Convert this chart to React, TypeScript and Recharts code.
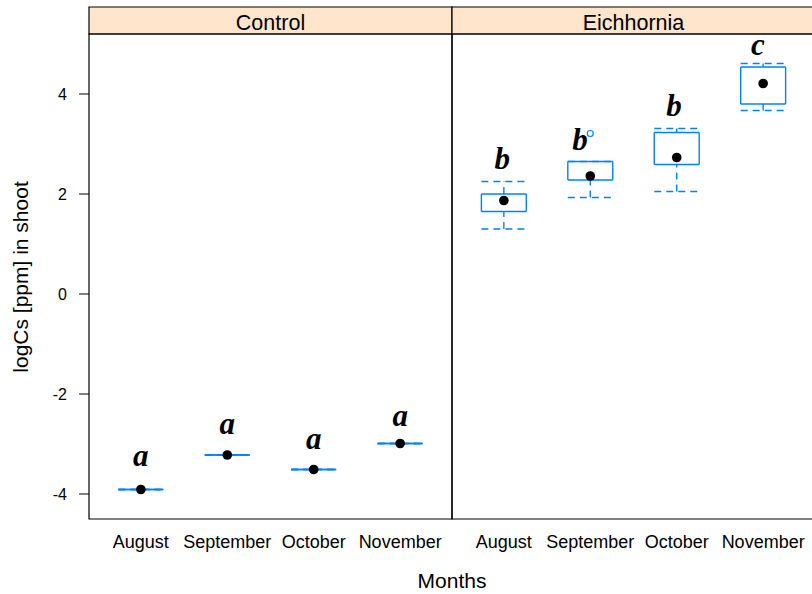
import React from 'react';
import { ComposedChart, XAxis, YAxis, Scatter, ReferenceLine, ReferenceArea } from 'recharts';

const months = ['August', 'September', 'October', 'November'];
const panels = ['Control', 'Eichhornia'];

// Control: all replicates identical -> collapsed boxes
const controlMin = [-3.91, -3.22, -3.51, -2.99];
const controlQ1 = [-3.91, -3.22, -3.51, -2.99];
const controlMedian = [-3.91, -3.22, -3.51, -2.99];
const controlQ3 = [-3.91, -3.22, -3.51, -2.99];
const controlMax = [-3.91, -3.22, -3.51, -2.99];
const controlLetters = ['a', 'a', 'a', 'a'];
const controlLetterY = [-3.43, -2.79, -3.09, -2.64];
const controlLetterShift = [0, 0, 0, 0];

const eichMin = [1.3, 1.93, 2.05, 3.67];
const eichQ1 = [1.65, 2.28, 2.59, 3.8];
const eichMedian = [1.87, 2.36, 2.73, 4.21];
const eichQ3 = [2.0, 2.65, 3.23, 4.54];
const eichMax = [2.25, 2.65, 3.31, 4.61];
const eichLetters = ['b', 'b', 'b', 'c'];
const eichLetterY = [2.51, 2.88, 3.57, 4.78];
const eichLetterShift = [-0.02, -0.12, -0.03, -0.06];
const eichOutlierMonths = ['September'];
const eichOutlierValues = [3.21];

const yTicks = [-4, -2, 0, 2, 4];

const Y_MIN = -4.5;
const Y_MAX = 5.2;
const STRIP_TOP = 5.74;
const PANEL_SPAN = 4.2;
const HALF = 0.26;
const BLUE = '#0080ff';

const xPos = (p: number, i: number) => 1 + i + p * PANEL_SPAN;

const stats = [
  { min: controlMin, q1: controlQ1, med: controlMedian, q3: controlQ3, max: controlMax, letters: controlLetters, letterY: controlLetterY, shift: controlLetterShift, outM: [] as string[], outV: [] as number[] },
  { min: eichMin, q1: eichQ1, med: eichMedian, q3: eichQ3, max: eichMax, letters: eichLetters, letterY: eichLetterY, shift: eichLetterShift, outM: eichOutlierMonths, outV: eichOutlierValues },
];

const medianData = stats.flatMap((s, p) => s.med.map((v, i) => ({ x: xPos(p, i), y: v })));
const letterData = stats.flatMap((s, p) => s.letters.map((l, i) => ({ x: xPos(p, i) + s.shift[i], y: s.letterY[i], label: l })));
const outlierData = stats.flatMap((s, p) => s.outM.map((m, k) => ({ x: xPos(p, months.indexOf(m)), y: s.outV[k] })));

const xTicks = panels.flatMap((_, p) => months.map((_, i) => xPos(p, i)));
const fmtX = (v: number) => {
  const idx = Math.round(v - 1 - (v > 1 + 3.6 ? PANEL_SPAN : 0));
  return months[idx] ?? '';
};

const seg = (key: string, x1: number, y1: number, x2: number, y2: number, dashed: boolean) => (
  <ReferenceLine
    key={key}
    segment={[{ x: x1, y: y1 }, { x: x2, y: y2 }]}
    stroke={BLUE}
    strokeWidth={1.4}
    strokeDasharray={dashed ? '7 5' : undefined}
    ifOverflow="visible"
  />
);

const boxElements = stats.flatMap((s, p) =>
  months.flatMap((_, i) => {
    const x = xPos(p, i);
    const k = `${p}-${i}`;
    return [
      seg(`wu${k}`, x, s.q3[i], x, s.max[i], true),
      seg(`wl${k}`, x, s.min[i], x, s.q1[i], true),
      seg(`cu${k}`, x - HALF, s.max[i], x + HALF, s.max[i], true),
      seg(`cl${k}`, x - HALF, s.min[i], x + HALF, s.min[i], true),
      seg(`bt${k}`, x - HALF, s.q3[i], x + HALF, s.q3[i], false),
      seg(`bb${k}`, x - HALF, s.q1[i], x + HALF, s.q1[i], false),
      seg(`bl${k}`, x - HALF, s.q1[i], x - HALF, s.q3[i], false),
      seg(`br${k}`, x + HALF, s.q1[i], x + HALF, s.q3[i], false),
    ];
  })
);

const stripLabel = (text: string) => (props: any) => {
  const vb = props.viewBox || {};
  return (
    <text
      x={vb.x + vb.width / 2}
      y={vb.y + vb.height - 4}
      textAnchor="middle"
      fontSize={21.5}
      fill="#000"
      fontFamily="Liberation Sans, Arial, sans-serif"
    >
      {text}
    </text>
  );
};

export default function App() {
  return (
    <div style={{ position: 'absolute', left: 0, top: 0, width: 812, height: 594, overflow: 'hidden', background: '#fff' }}>
      <ComposedChart
        width={820}
        height={594}
        margin={{ top: 7, right: 5, bottom: 0, left: 0 }}
        style={{ fontFamily: 'Liberation Sans, Arial, sans-serif' }}
      >
        <XAxis
          type="number"
          dataKey="x"
          domain={[0.4, 0.4 + 2 * PANEL_SPAN]}
          ticks={xTicks}
          tickFormatter={fmtX}
          allowDataOverflow
          axisLine={false}
          tickLine={false}
          tickSize={0}
          tickMargin={16}
          height={75}
          interval={0}
          tick={{ fontSize: 18, fill: '#000' }}
          label={{ value: 'Months', position: 'insideBottom', offset: 6, fontSize: 21, fill: '#000' }}
        />
        <YAxis
          type="number"
          dataKey="y"
          domain={[Y_MIN, STRIP_TOP]}
          ticks={yTicks}
          allowDataOverflow
          width={89}
          axisLine={false}
          tickLine={{ stroke: '#000' }}
          tickSize={10}
          tickMargin={12}
          interval={0}
          tick={{ fontSize: 16, fill: '#000' }}
          label={{
            content: () => (
              <text
                x={28}
                y={277}
                transform="rotate(-90 28 277)"
                textAnchor="middle"
                fontSize={21}
                fill="#000"
                fontFamily="Liberation Sans, Arial, sans-serif"
              >
                logCs [ppm] in shoot
              </text>
            ),
          }}
        />
        {panels.map((name, p) => (
          <ReferenceArea
            key={`strip${p}`}
            x1={0.4 + p * PANEL_SPAN}
            x2={0.4 + (p + 1) * PANEL_SPAN}
            y1={Y_MAX}
            y2={STRIP_TOP}
            fill="#ffe5cc"
            fillOpacity={1}
            stroke="#000"
            strokeWidth={1.2}
            ifOverflow="visible"
            label={stripLabel(name)}
          />
        ))}
        {panels.map((_, p) => (
          <ReferenceArea
            key={`panel${p}`}
            x1={0.4 + p * PANEL_SPAN}
            x2={0.4 + (p + 1) * PANEL_SPAN}
            y1={Y_MIN}
            y2={Y_MAX}
            fill="none"
            stroke="#000"
            strokeWidth={1.2}
            ifOverflow="visible"
          />
        ))}
        {boxElements}
        <Scatter
          data={medianData}
          dataKey="y"
          isAnimationActive={false}
          shape={(props: any) => <circle cx={props.cx} cy={props.cy} r={4.8} fill="#000" />}
        />
        <Scatter
          data={letterData}
          dataKey="y"
          isAnimationActive={false}
          shape={(props: any) => (
            <text
              x={props.cx}
              y={props.cy}
              textAnchor="middle"
              fontSize={31}
              fontWeight="bold"
              fontStyle="italic"
              fontFamily="Liberation Serif, Times New Roman, serif"
              fill="#000"
            >
              {props.payload?.label}
            </text>
          )}
        />
        <Scatter
          data={outlierData}
          dataKey="y"
          isAnimationActive={false}
          shape={(props: any) => <circle cx={props.cx} cy={props.cy} r={3} fill="#fff" stroke={BLUE} strokeWidth={1.2} />}
        />
      </ComposedChart>
    </div>
  );
}
